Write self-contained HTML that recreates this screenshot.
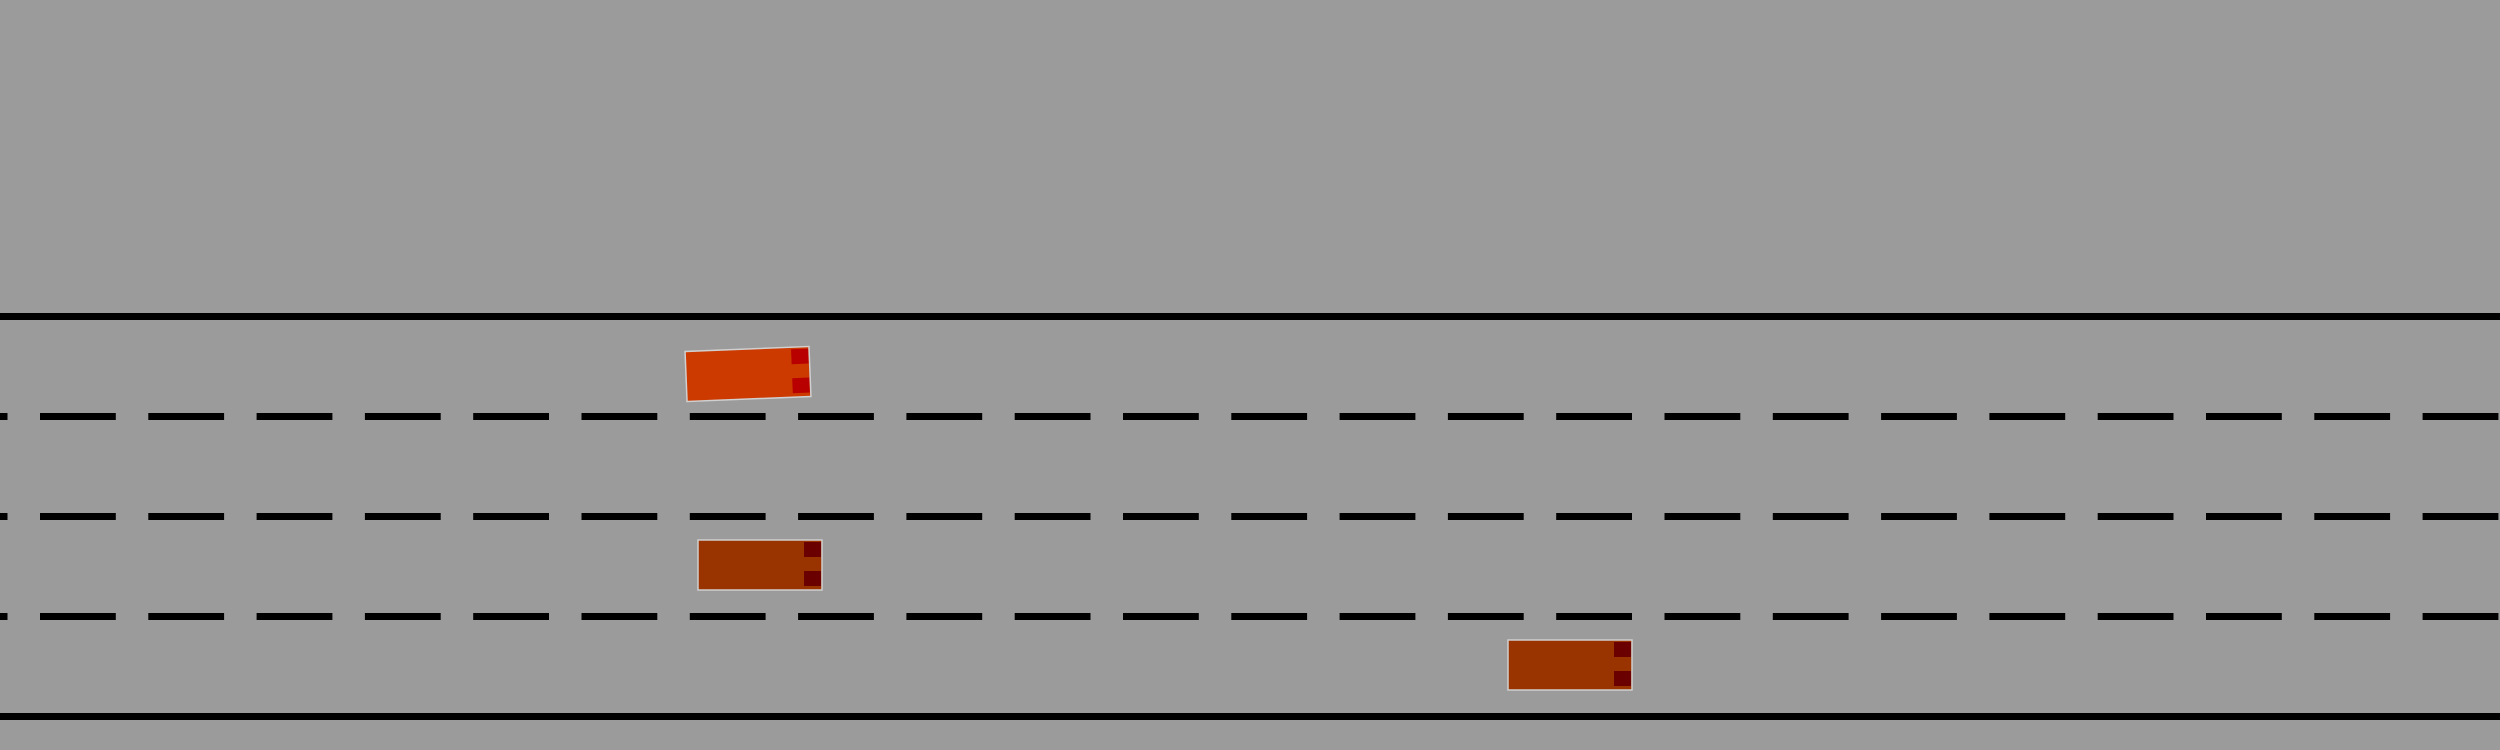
<!DOCTYPE html>
<html><head><meta charset="utf-8"><style>html,body{margin:0;padding:0;background:#9b9b9b}svg{display:block}</style></head>
<body>
<svg id="scene" width="2500" height="750" xmlns="http://www.w3.org/2000/svg">
<rect x="0" y="0" width="2500" height="750" fill="#9b9b9b"/>
<g id="lines"></g>
<g id="cars"></g>
</svg>
<script>
const edgeLinesY = [316.5, 716.5];
const laneLinesY = [416.5, 516.5, 616.5];
const carX = [748, 760, 1570];
const carY = [374, 565, 665];
const carAngle = [-2.3, 0, 0];
const carColor = ['#cc3a00', '#993300', '#993300'];
const lightColor = ['#b80000', '#6b0000', '#6b0000'];
const carNames = ['ego-car', 'car-lane-3', 'car-lane-4'];
const NS = 'http://www.w3.org/2000/svg';
const L = document.getElementById('lines');
const C = document.getElementById('cars');
edgeLinesY.forEach((y, i) => {
  const l = document.createElementNS(NS, 'line');
  
  
  l.setAttribute('x1', 0); l.setAttribute('x2', 2500);
  l.setAttribute('y1', y); l.setAttribute('y2', y);
  l.setAttribute('stroke', '#000'); l.setAttribute('stroke-width', 7);
  L.appendChild(l);
});
laneLinesY.forEach((y, i) => {
  const l = document.createElementNS(NS, 'line');
  
  
  l.setAttribute('x1', -68.3); l.setAttribute('x2', 2500);
  l.setAttribute('y1', y); l.setAttribute('y2', y);
  l.setAttribute('stroke', '#000'); l.setAttribute('stroke-width', 7);
  l.setAttribute('stroke-dasharray', '75.8 32.5');
  L.appendChild(l);
});
carX.forEach((x, i) => {
  const g = document.createElementNS(NS, 'g');
  
  
  g.setAttribute('transform', `translate(${x},${carY[i]}) rotate(${carAngle[i]})`);
  const b = document.createElementNS(NS, 'rect');
  
  
  b.setAttribute('x', -62); b.setAttribute('y', -25);
  b.setAttribute('width', 124); b.setAttribute('height', 50);
  b.setAttribute('fill', carColor[i]); b.setAttribute('stroke', '#d0d0d0'); b.setAttribute('stroke-width', 1.5);
  g.appendChild(b);
  [-23, 6].forEach(dy => {
    const s = document.createElementNS(NS, 'rect');
    
    
    s.setAttribute('x', 44); s.setAttribute('y', dy);
    s.setAttribute('width', 17); s.setAttribute('height', 15);
    s.setAttribute('fill', lightColor[i]);
    g.appendChild(s);
  });
  C.appendChild(g);
});
</script>
</body></html>
